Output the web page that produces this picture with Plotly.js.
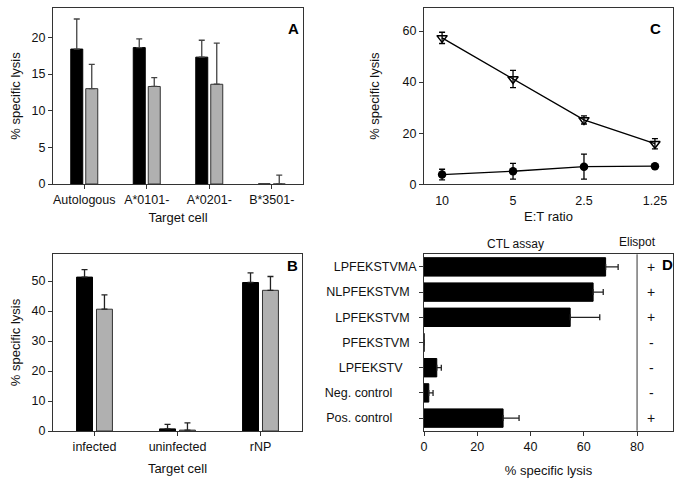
<!DOCTYPE html>
<html>
<head>
<meta charset="utf-8">
<script src="https://cdn.plot.ly/plotly-3.0.1.min.js"></script>
<style>html,body{margin:0;padding:0;background:#fff;}#chart{width:686px;height:486px;}</style>
</head>
<body>
<div id="chart"></div>
<script>
// ---- Panel A data ----
const catsA = ["Autologous", "A*0101-", "A*0201-", "B*3501-"];
const blackA = [18.4, 18.6, 17.3, 0];
const blackErrA = [4.1, 1.2, 2.3, 0];
const greyA = [13.0, 13.3, 13.6, 0];
const greyErrA = [3.3, 1.2, 5.6, 1.2];

// ---- Panel B data ----
const catsB = ["infected", "uninfected", "rNP"];
const blackB = [51.3, 0.7, 49.5];
const blackErrB = [2.5, 1.5, 3.2];
const greyB = [40.6, 0.3, 46.9];
const greyErrB = [4.8, 2.4, 4.6];

// ---- Panel C data ----
const ratiosC = ["10", "5", "2.5", "1.25"];
const triC = [57.3, 41.2, 25.2, 15.9];
const triErrC = [2.2, 3.4, 1.6, 2.0];
const dotC = [3.8, 5.1, 6.9, 7.1];
const dotErrC = [2.1, 3.1, 4.9, 0];

// ---- Panel D data ----
const peptidesD = ["LPFEKSTVMA", "NLPFEKSTVM", "LPFEKSTVM", "PFEKSTVM", "LPFEKSTV", "Neg. control", "Pos. control"];
const lysisD = [68.2, 63.5, 54.9, 0, 4.8, 1.8, 29.7];
const lysisErrD = [4.7, 3.8, 11.1, 0, 1.7, 1.6, 6.0];
const elispotD = ["+", "+", "+", "-", "-", "-", "+"];

// label padding (layout only) to mimic the irregular label alignment in panel D
const padD = [0, 2, 2, 2, 4, 7, 7];

const W = 686, H = 486;
const dx = (a, b) => [a / W, b / W];
const dy = (top, bot) => [1 - bot / H, 1 - top / H];

const FONT = "Liberation Sans, Arial, sans-serif";
const axisCommon = {
  showline: true, linecolor: "#333", linewidth: 1, mirror: true,
  showgrid: false, zeroline: false,
  tickfont: {family: FONT, size: 12.5, color: "#111"},
  ticks: "outside", ticklen: 4, tickcolor: "#333"
};
const titleFont = {family: FONT, size: 13, color: "#111"};
const GREY = "#b0b0b0";

const traces = [
  // A
  {type: "bar", x: catsA, y: blackA, xaxis: "x", yaxis: "y",
   marker: {color: "#000", line: {color: "#000", width: 1}},
   error_y: {type: "data", symmetric: false, array: blackErrA, arrayminus: blackA.map(() => 0), color: "#444", thickness: 1.3, width: 3}},
  {type: "bar", x: catsA, y: greyA, xaxis: "x", yaxis: "y",
   marker: {color: GREY, line: {color: "#333", width: 1}},
   error_y: {type: "data", symmetric: false, array: greyErrA, arrayminus: greyA.map(() => 0), color: "#444", thickness: 1.3, width: 3}},
  // B
  {type: "bar", x: catsB, y: blackB, xaxis: "x2", yaxis: "y2",
   marker: {color: "#000", line: {color: "#000", width: 1}},
   error_y: {type: "data", symmetric: false, array: blackErrB, arrayminus: blackB.map(() => 0), color: "#222", thickness: 1.3, width: 3}},
  {type: "bar", x: catsB, y: greyB, xaxis: "x2", yaxis: "y2",
   marker: {color: GREY, line: {color: "#333", width: 1}},
   error_y: {type: "data", symmetric: false, array: greyErrB, arrayminus: greyB.map(() => 0), color: "#222", thickness: 1.3, width: 3}},
  // C
  {type: "scatter", mode: "lines+markers", x: ratiosC, y: triC, xaxis: "x3", yaxis: "y3",
   line: {color: "#000", width: 1.3},
   marker: {symbol: "triangle-down-open", size: 9, color: "#000", line: {width: 1.5}},
   error_y: {type: "data", array: triErrC, color: "#000", thickness: 1.3, width: 3}},
  {type: "scatter", mode: "lines+markers", x: ratiosC, y: dotC, xaxis: "x3", yaxis: "y3",
   line: {color: "#000", width: 1.3},
   marker: {symbol: "circle", size: 8.5, color: "#000"},
   error_y: {type: "data", array: dotErrC, color: "#000", thickness: 1.3, width: 3}},
  // D
  {type: "bar", orientation: "h", y: peptidesD, x: lysisD, xaxis: "x4", yaxis: "y4", width: 0.73,
   marker: {color: "#000", line: {color: "#000", width: 1}},
   error_x: {type: "data", symmetric: false, array: lysisErrD, arrayminus: lysisD.map(() => 0), color: "#222", thickness: 1.3, width: 3}}
];

const annotations = [
  {text: "<b>A</b>", xref: "paper", yref: "paper", x: 293 / W, y: 1 - 18 / H, showarrow: false, font: {family: FONT, size: 15, color: "#000"}},
  {text: "<b>B</b>", xref: "paper", yref: "paper", x: 292 / W, y: 1 - 265 / H, showarrow: false, font: {family: FONT, size: 15, color: "#000"}},
  {text: "<b>C</b>", xref: "paper", yref: "paper", x: 663 / W, y: 1 - 18 / H, showarrow: false, font: {family: FONT, size: 15, color: "#000"}},
  {text: "<b>D</b>", xref: "paper", yref: "paper", x: 674 / W, xanchor: "right", y: 1 - 264 / H, showarrow: false, borderpad: 0, font: {family: FONT, size: 15, color: "#000"}},
  {text: "CTL assay", xref: "paper", yref: "paper", x: 546 / W, y: 1 - 244 / H, showarrow: false, font: {family: FONT, size: 12, color: "#111"}},
  {text: "Elispot", xref: "paper", yref: "paper", x: 658 / W, y: 1 - 242 / H, showarrow: false, font: {family: FONT, size: 12, color: "#111"}}
];
peptidesD.forEach((p, i) => {
  annotations.push({text: elispotD[i], xref: "x4", yref: "y4", x: 85.3, y: p, showarrow: false, borderpad: 0,
    font: {family: FONT, size: 14, color: "#111"}});
});

const ticktextD = peptidesD.map((p, i) => p + "\u00A0".repeat(padD[i]));

const layout = {
  width: W, height: H,
  margin: {l: 0, r: 0, t: 0, b: 0},
  paper_bgcolor: "#fff", plot_bgcolor: "#fff",
  showlegend: false,
  barmode: "group", bargap: 0.52, bargroupgap: 0.2,
  font: {family: FONT, color: "#111"},
  xaxis: Object.assign({}, axisCommon, {domain: dx(53, 303), anchor: "y", type: "category",
    title: {text: "Target cell", font: titleFont, standoff: 6}}),
  yaxis: Object.assign({}, axisCommon, {domain: dy(8, 184), anchor: "x", range: [0, 24], dtick: 5,
    title: {text: "% specific lysis", font: titleFont, standoff: 8}}),
  xaxis2: Object.assign({}, axisCommon, {domain: dx(53, 302), anchor: "y2", type: "category",
    title: {text: "Target cell", font: titleFont, standoff: 10}}),
  yaxis2: Object.assign({}, axisCommon, {domain: dy(254, 431), anchor: "x2", range: [0, 59], dtick: 10,
    title: {text: "% specific lysis", font: titleFont, standoff: 8}}),
  xaxis3: Object.assign({}, axisCommon, {domain: dx(424, 673), anchor: "y3", type: "category",
    ticks: "outside", ticklen: 5, tickcolor: "rgba(0,0,0,0)",
    title: {text: "E:T ratio", font: titleFont, standoff: 4}}),
  yaxis3: Object.assign({}, axisCommon, {domain: dy(8, 184.3), anchor: "x3", range: [0, 69], dtick: 20,
    title: {text: "% specific lysis", font: titleFont, standoff: 20}}),
  xaxis4: Object.assign({}, axisCommon, {domain: dx(424, 673), anchor: "y4", range: [0, 93.5], tickvals: [0, 20, 40, 60, 80],
    title: {text: "% specific lysis", font: titleFont, standoff: 13}}),
  yaxis4: Object.assign({}, axisCommon, {domain: dy(254.3, 430.7), anchor: "x4", type: "category", autorange: "reversed",
    tickvals: peptidesD, ticktext: ticktextD,
    tickfont: {family: FONT, size: 12.5, color: "#111"}}),
  shapes: [
    {type: "line", xref: "x4", yref: "y4 domain", x0: 80, x1: 80, y0: 0, y1: 1, line: {color: "#333", width: 1}}
  ],
  annotations: annotations
};

Plotly.newPlot("chart", traces, layout, {staticPlot: true, displayModeBar: false});
</script>
</body>
</html>
